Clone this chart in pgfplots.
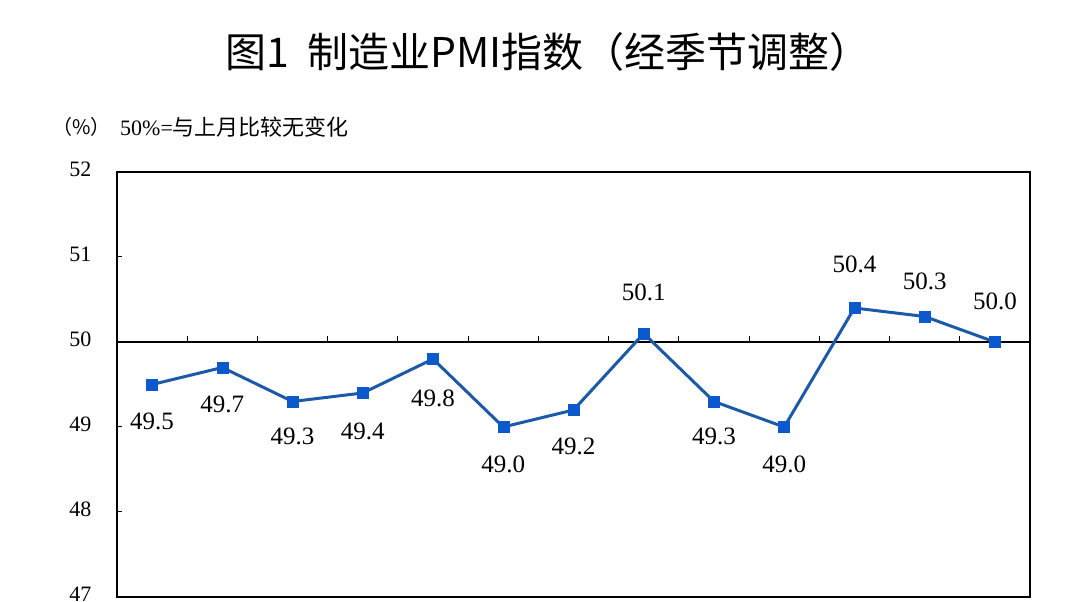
\documentclass[border=0pt]{standalone}
\usepackage{pgfplots}
\pgfplotsset{compat=1.18}
\usepackage{pgfplotstable}
\usepackage{fontspec}
\setmainfont{Liberation Serif}
\newfontfamily\cjk{Noto Sans CJK SC}
\definecolor{pmiline}{RGB}{28,90,168}
\definecolor{pmimark}{RGB}{12,88,205}
\pgfplotstableread{
x y lab dy
0 49.5 49.5 -37
1 49.7 49.7 -37
2 49.3 49.3 -35
3 49.4 49.4 -38
4 49.8 49.8 -39
5 49.0 49.0 -37
6 49.2 49.2 -36
7 50.1 50.1 41
8 49.3 49.3 -35
9 49.0 49.0 -37
10 50.4 50.4 44
11 50.3 50.3 35
12 50.0 50.0 41
}\pmidata
\begin{document}
\begin{tikzpicture}[x=1pt,y=1pt]
\clip (0,0) rectangle (1080,602);
\useasboundingbox (0,0) rectangle (1080,602);
\fill[white] (0,0) rectangle (1080,602);
\node[font=\cjk\fontsize{41}{48}\selectfont, inner sep=0pt] at (548,550) {图1\hspace{0.45em}制造业PMI指数（经季节调整）};
\node[anchor=west, font=\cjk\fontsize{20}{24}\selectfont, inner sep=0pt] at (52,475) {（\%）};
\node[anchor=west, font=\fontsize{22}{26}\selectfont, inner sep=0pt] at (120,475) {50\%={\cjk 与上月比较无变化}};
\begin{axis}[
  at={(117pt,5pt)}, anchor=south west,
  scale only axis, width=913pt, height=425pt,
  xmin=-0.5, xmax=12.5, ymin=47, ymax=52,
  xtick=\empty, ytick={47,48,49,50,51,52},
  ytick pos=left, tick align=inside, major tick length=5pt,
  tick style={black, line width=1pt},
  axis line style={black, line width=1.5pt},
  yticklabel style={font=\fontsize{22}{26}\selectfont, xshift=-22pt, yshift=3pt},
  /pgf/number format/assume math mode=true,
  clip=false,
]
\draw[black, line width=1.5pt] (axis cs:-0.5,50) -- (axis cs:12.5,50);
\draw[black, line width=1pt]
  (axis cs:0.5,50) -- (axis cs:0.5,50.07)
  (axis cs:1.5,50) -- (axis cs:1.5,50.07)
  (axis cs:2.5,50) -- (axis cs:2.5,50.07)
  (axis cs:3.5,50) -- (axis cs:3.5,50.07)
  (axis cs:4.5,50) -- (axis cs:4.5,50.07)
  (axis cs:5.5,50) -- (axis cs:5.5,50.07)
  (axis cs:6.5,50) -- (axis cs:6.5,50.07)
  (axis cs:7.5,50) -- (axis cs:7.5,50.07)
  (axis cs:8.5,50) -- (axis cs:8.5,50.07)
  (axis cs:9.5,50) -- (axis cs:9.5,50.07)
  (axis cs:10.5,50) -- (axis cs:10.5,50.07)
  (axis cs:11.5,50) -- (axis cs:11.5,50.07);
\addplot[color=pmiline, line width=3pt, mark=square*, mark size=5.5pt,
  mark options={fill=pmimark, draw=pmimark, line width=0.5pt},
  point meta=explicit symbolic, nodes near coords,
  visualization depends on={\thisrow{dy}\as\labdy},
  nodes near coords style={font=\fontsize{25}{29}\selectfont, text=black, anchor=center, yshift=\labdy pt}]
  table[x=x, y=y, meta=lab] {\pmidata};
\end{axis}
\end{tikzpicture}
\end{document}
